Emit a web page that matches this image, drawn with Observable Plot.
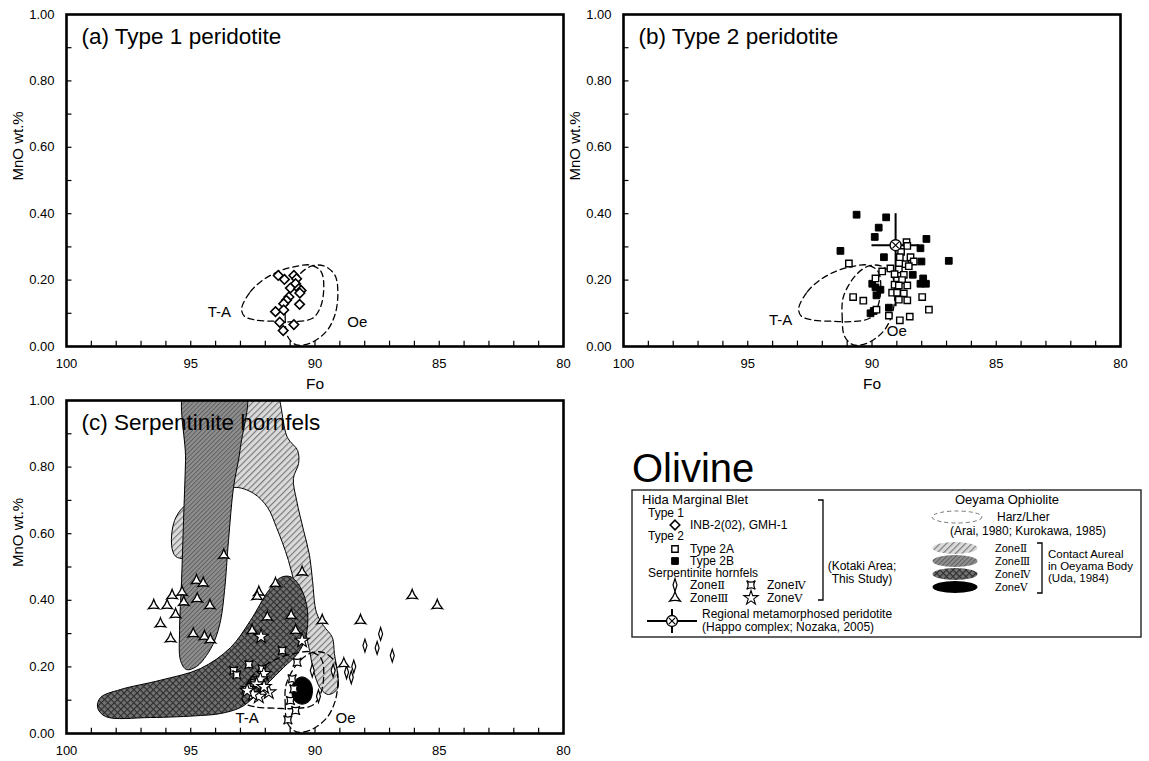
<!DOCTYPE html>
<html>
<head>
<meta charset="utf-8">
<script src="https://cdn.jsdelivr.net/npm/d3@7"></script>
<script src="https://cdn.jsdelivr.net/npm/@observablehq/plot@0.6"></script>
<style>
  html, body { margin: 0; padding: 0; background: #fff; }
  #wrap { position: relative; width: 1149px; height: 761px; overflow: hidden; background: #fff;
          font-family: "Liberation Sans", Arial, sans-serif; }
  .panel { position: absolute; }
  #legend { position: absolute; left: 0; top: 0; }
</style>
</head>
<body>
<svg width="0" height="0" style="position:absolute">
  <defs>
    <pattern id="pII" patternUnits="userSpaceOnUse" width="4.5" height="4.5" patternTransform="rotate(45)">
      <rect width="4.5" height="4.5" fill="#dadada"/>
      <line x1="0.6" y1="0" x2="0.6" y2="4.5" stroke="#6c6c6c" stroke-width="1"/>
    </pattern>
    <pattern id="pIII" patternUnits="userSpaceOnUse" width="3.2" height="3.2" patternTransform="rotate(45)">
      <rect width="3.2" height="3.2" fill="#8e8e8e"/>
      <line x1="0.5" y1="0" x2="0.5" y2="3.2" stroke="#555" stroke-width="0.8"/>
    </pattern>
    <pattern id="pIV" patternUnits="userSpaceOnUse" width="4.6" height="4.6" patternTransform="rotate(45)">
      <rect width="4.6" height="4.6" fill="#727272"/>
      <path d="M0.5,0V4.6M0,0.5H4.6" stroke="#2c2c2c" stroke-width="1.1"/>
    </pattern>
  </defs>
</svg>
<div id="wrap">
  <div id="pa" class="panel" style="left:0;top:0"></div>
  <div id="pb" class="panel" style="left:557px;top:0"></div>
  <div id="pc" class="panel" style="left:0;top:386px"></div>
  <svg id="legend" width="1149" height="761"></svg>
</div>
<script>
// ---------------- data ----------------
const xMajorTicks = [100, 95, 90, 85, 80];
const xMinorTicks = [99, 98, 97, 96, 95, 94, 93, 92, 91, 90, 89, 88, 87, 86, 85, 84, 83, 82, 81];
const yMajorTicks = [0, 0.2, 0.4, 0.6, 0.8, 1.0];
const yMinorTicks = [0.1, 0.2, 0.3, 0.4, 0.5, 0.6, 0.7, 0.8, 0.9];
const xLabel = "Fo";
const yLabel = "MnO wt.%";
const titles = ["(a) Type 1 peridotite", "(b) Type 2 peridotite", "(c) Serpentinite hornfels"];

// [Fo, MnO]
const type1 = [[91.48,0.214],[91.23,0.202],[90.85,0.214],[90.74,0.204],[90.78,0.189],[90.99,0.176],[90.65,0.174],
  [90.56,0.169],[90.61,0.161],[91.05,0.149],[91.15,0.139],[91.26,0.129],[90.62,0.127],[91.59,0.105],[91.26,0.110],
  [91.42,0.073],[90.85,0.066],[91.28,0.048]];

const type2A = [[90.93,0.250],[88.61,0.314],[88.58,0.303],[88.83,0.285],[88.45,0.269],[88.32,0.256],[88.65,0.248],
  [88.52,0.242],[89.26,0.235],[88.92,0.232],[89.59,0.226],[88.72,0.216],[89.86,0.205],[88.99,0.200],[88.79,0.200],
  [89.09,0.186],[88.92,0.184],[88.58,0.184],[89.19,0.162],[88.99,0.162],[88.72,0.160],[88.92,0.141],[88.58,0.139],
  [87.98,0.149],[90.76,0.149],[90.35,0.138],[89.82,0.111],[87.71,0.111],[89.32,0.093],[88.88,0.079],[88.48,0.090],
  [89.09,0.218],[88.88,0.269]];

const type2B = [[90.62,0.397],[89.43,0.389],[89.73,0.358],[89.89,0.330],[91.27,0.288],[89.52,0.269],[87.81,0.324],
  [88.05,0.296],[88.01,0.256],[86.91,0.258],[88.36,0.216],[87.94,0.205],[88.05,0.189],[87.83,0.189],[89.99,0.189],
  [89.86,0.178],[89.66,0.171],[89.82,0.154],[90.06,0.100],[89.93,0.107],[89.32,0.117]];

// Regional metamorphosed peridotite (Happo complex)
const happoFo = [89.05];
const happoMnO = [0.305];
const happoFoRange = [90.0, 88.1];
const happoMnORange = [0.12, 0.40];

const hornfelsZoneII = [[87.36,0.299],[87.99,0.264],[87.50,0.257],[86.89,0.234],[88.44,0.201],[88.73,0.184],
  [88.54,0.169],[89.27,0.189],[89.86,0.112],[90.11,0.189]];
const hornfelsZoneIII = [[93.67,0.535],[94.77,0.459],[94.50,0.451],[95.75,0.414],[95.35,0.424],[94.74,0.404],
  [96.49,0.384],[95.95,0.384],[95.28,0.394],[94.23,0.384],[95.61,0.357],[96.22,0.329],[95.81,0.284],[94.90,0.299],
  [94.45,0.291],[94.21,0.281],[92.26,0.424],[92.33,0.411],[91.59,0.450],[91.92,0.349],[90.96,0.354],[90.78,0.309],
  [92.53,0.309],[90.52,0.484],[89.71,0.339],[88.17,0.339],[86.09,0.414],[85.08,0.384],[88.84,0.209]];
const hornfelsZoneIV = [[93.27,0.189],[93.15,0.176],[92.66,0.207],[91.32,0.249],[92.13,0.194],[90.72,0.214],
  [90.92,0.164],[90.85,0.134],[90.99,0.099],[90.78,0.069],[91.09,0.041],[92.45,0.152]];
const hornfelsZoneV = [[92.17,0.291],[92.06,0.179],[92.20,0.163],[92.35,0.148],[91.86,0.124],[92.66,0.134],
  [92.26,0.111],[92.50,0.118],[92.73,0.129],[92.05,0.140],[90.52,0.279]];

// Oeyama fields (outlines)
const fieldTA = [[92.95,0.115],[92.60,0.165],[92.10,0.200],[91.50,0.225],[90.85,0.240],[90.15,0.245],[89.75,0.225],
  [89.65,0.170],[89.80,0.115],[90.10,0.085],[90.80,0.075],[91.60,0.076],[92.40,0.080],[92.85,0.092]];
const fieldOe = [[91.15,0.150],[91.20,0.090],[91.10,0.030],[90.75,0.005],[90.20,0.010],[89.55,0.045],[89.20,0.095],
  [89.08,0.160],[89.20,0.215],[89.65,0.243],[90.15,0.242],[90.65,0.215]];
const contactZoneII = [[92.80,1.05],[91.71,1.05],[91.11,0.889],[90.70,0.850],[90.66,0.811],[90.87,0.766],[90.74,0.700],
  [90.46,0.610],[90.22,0.535],[90.10,0.459],[89.94,0.363],[89.66,0.324],[89.30,0.288],[89.22,0.240],[89.09,0.180],
  [89.09,0.135],[89.46,0.117],[89.78,0.135],[90.06,0.189],[90.22,0.249],[90.58,0.369],[91.07,0.520],[91.55,0.619],
  [91.91,0.679],[92.47,0.721],[93.28,0.739],[94.41,0.700],[95.21,0.685],[95.65,0.640],[95.77,0.565],[95.61,0.532],
  [95.25,0.526],[94.61,0.550],[94.41,0.850],[94.21,1.05]];
const contactZoneIII = [[95.15,1.05],[92.85,1.05],[93.00,0.859],[93.28,0.739],[93.48,0.580],[93.64,0.429],[93.80,0.339],
  [94.04,0.279],[94.37,0.234],[94.77,0.201],[95.17,0.192],[95.41,0.219],[95.45,0.309],[95.37,0.459],[95.29,0.640],
  [95.21,0.820]];
const contactZoneIV = [[91.39,0.468],[90.99,0.471],[90.58,0.438],[90.30,0.369],[90.38,0.288],[90.70,0.240],[91.27,0.198],
  [91.91,0.150],[92.47,0.108],[93.00,0.078],[93.80,0.060],[94.61,0.054],[96.62,0.048],[98.43,0.051],[98.75,0.078],
  [98.63,0.108],[97.83,0.132],[96.22,0.160],[94.61,0.195],[93.40,0.258],[92.60,0.339],[91.87,0.429]];
const contactZoneV = [[90.52,0.170],[90.22,0.158],[90.10,0.129],[90.22,0.098],[90.52,0.088],[90.82,0.098],
  [90.94,0.129],[90.82,0.158]];

// field label positions per panel: [Fo, MnO]
const labelTA = [[93.85,0.103],[93.68,0.080],[92.73,0.045]];
const labelOe = [[88.30,0.073],[89.00,0.045],[88.77,0.045]];

// ---------------- symbols ----------------
const rad = size => Math.sqrt(size / Math.PI);
const symThinDiamond = { draw(ctx, size) { const r = rad(size);
  ctx.moveTo(0, -1.6 * r); ctx.lineTo(0.5 * r, 0); ctx.lineTo(0, 1.6 * r); ctx.lineTo(-0.5 * r, 0); ctx.closePath(); } };
const symConcaveTri = { draw(ctx, size) { const R = rad(size) * 1.35, k = Math.PI / 180;
  const p = a => [R * Math.cos(a * k), R * Math.sin(a * k)];
  const c = a => [0.3 * R * Math.cos(a * k), 0.3 * R * Math.sin(a * k)];
  const P = [p(-90), p(30), p(150)], C = [c(-30), c(90), c(210)];
  ctx.moveTo(...P[0]); ctx.quadraticCurveTo(...C[0], ...P[1]); ctx.quadraticCurveTo(...C[1], ...P[2]);
  ctx.quadraticCurveTo(...C[2], ...P[0]); ctx.closePath(); } };
const symConcaveSquare = { draw(ctx, size) { const R = rad(size) * 1.45, k = Math.PI / 180;
  const p = a => [R * Math.cos(a * k), R * Math.sin(a * k)];
  const c = a => [0.22 * R * Math.cos(a * k), 0.22 * R * Math.sin(a * k)];
  const P = [p(-135), p(-45), p(45), p(135)], C = [c(-90), c(0), c(90), c(180)];
  ctx.moveTo(...P[0]);
  for (let i = 0; i < 4; i++) ctx.quadraticCurveTo(...C[i], ...P[(i + 1) % 4]);
  ctx.closePath(); } };

const FONT = "Liberation Sans, Arial, sans-serif";
const X = d => d[0], Y = d => d[1];

function fieldMarks(i) {
  return [
    Plot.line(fieldTA, {x: X, y: Y, curve: "catmull-rom-closed", stroke: "#000", strokeWidth: 1.3, strokeDasharray: "6,4", fill: "none"}),
    Plot.line(fieldOe, {x: X, y: Y, curve: "catmull-rom-closed", stroke: "#000", strokeWidth: 1.3, strokeDasharray: "6,4", fill: "none"}),
    Plot.text([labelTA[i]], {x: X, y: Y, text: () => "T-A", fontSize: 15, fill: "#000"}),
    Plot.text([labelOe[i]], {x: X, y: Y, text: () => "Oe", fontSize: 15, fill: "#000"})
  ];
}

function makePanel(i, height, marginBottom, dataMarks, showXLabel) {
  const marks = [
    ...dataMarks,
    Plot.ruleX(xMinorTicks, {x: d => d, y1: 0, y2: 0.016, stroke: "#000", strokeWidth: 1.2}),
    Plot.ruleY(yMinorTicks, {y: d => d, x1: 100, x2: 99.78, stroke: "#000", strokeWidth: 1.2}),
    Plot.axisX({ticks: xMajorTicks, tickSize: 0, tickPadding: 12, tickFormat: d => String(d), label: null, fontSize: 13}),
    Plot.axisY({ticks: yMajorTicks, tickSize: 0, tickPadding: 12, tickFormat: d3.format(".2f"), label: null, fontSize: 13}),
    Plot.frame({stroke: "#000", strokeWidth: 2.6}),
    Plot.text([titles[i]], {text: d => d, frameAnchor: "top-left", dx: 15, dy: 14, lineAnchor: "top", textAnchor: "start", fontSize: 22.5, fill: "#000"}),
    Plot.text([yLabel], {text: d => d, frameAnchor: "left", dx: -48, rotate: -90, fontSize: 15, fill: "#000"})
  ];
  if (showXLabel) marks.push(Plot.text([xLabel], {text: d => d, frameAnchor: "bottom", dy: 42, fontSize: 15.5, fill: "#000"}));
  return Plot.plot({
    width: 580, height,
    marginLeft: 66, marginRight: 17, marginTop: 14, marginBottom,
    x: {domain: [100, 80]},
    y: {domain: [0, 1]},
    style: {background: "transparent", overflow: "visible", fontFamily: FONT, fontSize: "13px", color: "#000"},
    marks
  });
}

// panel a
document.getElementById("pa").append(makePanel(0, 400, 54, [
  ...fieldMarks(0),
  Plot.dot(type1, {x: X, y: Y, symbol: "diamond2", r: 4.3, stroke: "#000", strokeWidth: 1.6, fill: "white"})
], true));

// panel b
document.getElementById("pb").append(makePanel(1, 400, 54, [
  ...fieldMarks(1),
  Plot.ruleX(happoFo, {x: d => d, y1: happoMnORange[0], y2: happoMnORange[1], stroke: "#000", strokeWidth: 2}),
  Plot.ruleY(happoMnO, {y: d => d, x1: happoFoRange[0], x2: happoFoRange[1], stroke: "#000", strokeWidth: 2}),
  Plot.dot(type2B, {x: X, y: Y, symbol: "square", r: 3.8, fill: "#000", stroke: "#000", strokeWidth: 1}),
  Plot.dot(type2A, {x: X, y: Y, symbol: "square", r: 3.6, fill: "white", stroke: "#000", strokeWidth: 1.4}),
  Plot.dot(happoFo.map((f, j) => [f, happoMnO[j]]), {x: X, y: Y, symbol: "circle", r: 5.5, fill: "white", stroke: "#000", strokeWidth: 1.4}),
  Plot.dot(happoFo.map((f, j) => [f, happoMnO[j]]), {x: X, y: Y, symbol: "times", r: 3, stroke: "#000", strokeWidth: 1.2})
], true));

// panel c
document.getElementById("pc").append(makePanel(2, 375, 28, [
  Plot.line(contactZoneII, {x: X, y: Y, curve: "catmull-rom-closed", fill: "url(#pII)", stroke: "#000", strokeWidth: 1, clip: true}),
  Plot.line(contactZoneIII, {x: X, y: Y, curve: "catmull-rom-closed", fill: "url(#pIII)", stroke: "#000", strokeWidth: 1, clip: true}),
  Plot.line(contactZoneIV, {x: X, y: Y, curve: "catmull-rom-closed", fill: "url(#pIV)", stroke: "#000", strokeWidth: 1, clip: true}),
  Plot.line(contactZoneV, {x: X, y: Y, curve: "catmull-rom-closed", fill: "#000", stroke: "#000", strokeWidth: 1, clip: true}),
  ...fieldMarks(2),
  Plot.dot(hornfelsZoneII, {x: X, y: Y, symbol: symThinDiamond, r: 4, fill: "white", stroke: "#000", strokeWidth: 1.2}),
  Plot.dot(hornfelsZoneIII, {x: X, y: Y, symbol: symConcaveTri, r: 4.5, fill: "white", stroke: "#000", strokeWidth: 1.3}),
  Plot.dot(hornfelsZoneIV, {x: X, y: Y, symbol: symConcaveSquare, r: 4.2, fill: "white", stroke: "#000", strokeWidth: 1.2}),
  Plot.dot(hornfelsZoneV, {x: X, y: Y, symbol: "star", r: 4.5, fill: "white", stroke: "#000", strokeWidth: 1.1})
], false));

// ---------------- legend (static layout) ----------------
const lg = d3.select("#legend");
lg.append("text").attr("x", 632).attr("y", 482).attr("font-size", 40).attr("font-family", FONT).text("Olivine");
lg.append("rect").attr("x", 632).attr("y", 490).attr("width", 509).attr("height", 147)
  .attr("fill", "none").attr("stroke", "#222").attr("stroke-width", 1.4);
const FS = 12;
const T = (x, y, s, anchor = "start", size = FS) => lg.append("text").attr("x", x).attr("y", y)
  .attr("font-size", size).attr("font-family", FONT).attr("text-anchor", anchor).text(s);
const Z = (x, y, num, size = FS) => { const t = lg.append("text").attr("x", x).attr("y", y).attr("font-size", size).attr("font-family", FONT);
  t.append("tspan").text("Zone"); t.append("tspan").attr("font-family", "DejaVu Serif, Liberation Serif, serif").attr("font-size", size - 0.5).text(num); };
const S = (x, y, type, size, fill, sw = 1.3) => lg.append("path")
  .attr("d", d3.symbol().type(type).size(size)()).attr("transform", `translate(${x},${y})`)
  .attr("fill", fill).attr("stroke", "#000").attr("stroke-width", sw);

T(642, 504, "Hida Marginal Blet", "start", 13);
T(648, 517, "Type 1");
S(675, 525, d3.symbolDiamond2, Math.PI * 4.3 * 4.3, "white", 1.6); T(690, 529, "INB-2(02), GMH-1");
T(648, 540, "Type 2");
S(675, 549, d3.symbolSquare, Math.PI * 3.6 * 3.6, "white", 1.4); T(690, 553, "Type 2A");
S(675, 561, d3.symbolSquare, Math.PI * 3.8 * 3.8, "#000", 1); T(690, 565, "Type 2B");
T(648, 577, "Serpentinite hornfels");
S(675, 585, symThinDiamond, Math.PI * 16, "white", 1.2); Z(690, 589, "Ⅱ");
S(751, 585, symConcaveSquare, Math.PI * 4.2 * 4.2, "white", 1.2); Z(767, 589, "Ⅳ");
S(675, 598, symConcaveTri, Math.PI * 4.5 * 4.5, "white", 1.3); Z(690, 602, "Ⅲ");
S(751, 598, d3.symbolStar, Math.PI * 4.5 * 4.5, "white", 1.1); Z(767, 602, "Ⅴ");
lg.append("path").attr("d", "M818,500H823V600H818").attr("fill", "none").attr("stroke", "#000").attr("stroke-width", 1.3);
T(862, 570, "(Kotaki Area;", "middle"); T(862, 583, "This Study)", "middle");
lg.append("path").attr("d", "M647,621H697M672,609V633").attr("stroke", "#000").attr("stroke-width", 2);
S(672, 621, d3.symbolCircle, Math.PI * 30, "white", 1.4);
S(672, 621, d3.symbolTimes, Math.PI * 9, "none", 1.2);
T(702, 618, "Regional metamorphosed peridotite"); T(702, 631, "(Happo complex; Nozaka, 2005)");

T(955, 504, "Oeyama Ophiolite", "start", 13);
lg.append("ellipse").attr("cx", 957).attr("cy", 517).attr("rx", 25).attr("ry", 6)
  .attr("fill", "white").attr("stroke", "#777").attr("stroke-width", 1).attr("stroke-dasharray", "4,3");
T(997, 521, "Harz/Lher");
T(950, 535, "(Arai, 1980; Kurokawa, 1985)");
[["url(#pII)", 548, "Ⅱ"], ["url(#pIII)", 561, "Ⅲ"], ["url(#pIV)", 574, "Ⅳ"], ["#000", 587, "Ⅴ"]].forEach(([f, cy, n]) => {
  lg.append("ellipse").attr("cx", 955).attr("cy", cy).attr("rx", 22.5).attr("ry", 6).attr("fill", f);
  Z(995, cy + 4, n, 11);
});
lg.append("path").attr("d", "M1037,543H1042V593H1037").attr("fill", "none").attr("stroke", "#000").attr("stroke-width", 1.3);
T(1048, 558, "Contact Aureal", "start", 11.5); T(1048, 570, "in Oeyama Body", "start", 11.5); T(1048, 582, "(Uda, 1984)", "start", 11.5);
</script>
</body>
</html>
